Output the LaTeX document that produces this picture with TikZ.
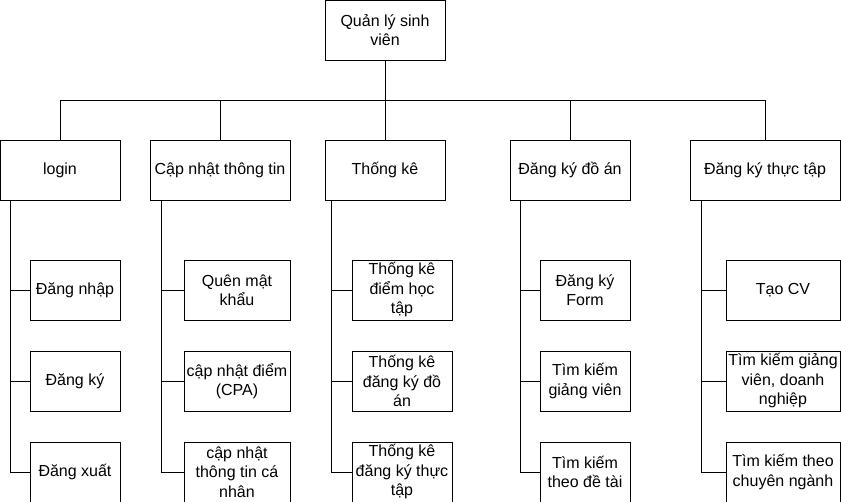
\documentclass[tikz,border=0pt]{standalone}
\usepackage{fontspec}
\setmainfont{Liberation Sans}
\usetikzlibrary{positioning}

\begin{document}
\begin{tikzpicture}[
    x=1pt, y=-1pt,
    node distance=30pt,
    box/.style={rectangle, draw=black, line width=1pt, minimum height=60pt, inner sep=0pt, align=center, font=\fontsize{16}{19.5}\selectfont},
    link/.style={draw=black, line width=1pt}
]
    \useasboundingbox (0,0) rectangle (841,501);

    % Root
    \node[box, minimum width=120pt] (root) at (385,30) {Quản lý sinh\\viên};

    % Main functions
    \node[box, minimum width=120pt] (login) at (60,170) {login};
    \node[box, minimum width=140pt] (capnhat) at (220,170) {Cập nhật thông tin};
    \node[box, minimum width=120pt] (thongke) at (385,170) {Thống kê};
    \node[box, minimum width=120pt] (doan) at (570,170) {Đăng ký đồ án};
    \node[box, minimum width=150pt] (thuctap) at (765,170) {Đăng ký thực tập};

    % login
    \node[box, minimum width=90pt] (l1) at (75,290) {Đăng nhập};
    \node[box, minimum width=90pt] (l2) [below=of l1] {Đăng ký};
    \node[box, minimum width=90pt] (l3) [below=of l2] {Đăng xuất};

    % Cap nhat thong tin
    \node[box, minimum width=106pt] (c1) at (237,290) {Quên mật\\khẩu};
    \node[box, minimum width=106pt] (c2) [below=of c1] {cập nhật điểm\\(CPA)};
    \node[box, minimum width=106pt] (c3) [below=of c2] {cập nhật\\thông tin cá\\nhân};

    % Thong ke
    \node[box, minimum width=100pt] (t1) at (402,290) {Thống kê\\điểm học\\tập};
    \node[box, minimum width=100pt] (t2) [below=of t1] {Thống kê\\đăng ký đồ\\án};
    \node[box, minimum width=100pt] (t3) [below=of t2] {Thống kê\\đăng ký thực\\tập};

    % Dang ky do an
    \node[box, minimum width=90pt] (d1) at (585,290) {Đăng ký\\Form};
    \node[box, minimum width=90pt] (d2) [below=of d1] {Tìm kiếm\\giảng viên};
    \node[box, minimum width=90pt] (d3) [below=of d2] {Tìm kiếm\\theo đề tài};

    % Dang ky thuc tap
    \node[box, minimum width=114pt] (p1) at (783,290) {Tạo CV};
    \node[box, minimum width=114pt] (p2) [below=of p1] {Tìm kiếm giảng\\viên, doanh\\nghiệp};
    \node[box, minimum width=114pt] (p3) [below=of p2] {Tìm kiếm theo\\chuyên ngành};

    % Draw connections
    \coordinate (bus) at (385,100);
    \draw[link] (root) -- (thongke);
    \foreach \n in {login,capnhat,doan,thuctap}
        \draw[link] (bus) -| (\n.north);

    \coordinate (sL) at (10,200);
    \coordinate (sC) at (161,200);
    \coordinate (sT) at (331,200);
    \coordinate (sD) at (520,200);
    \coordinate (sP) at (701,200);
    \foreach \s/\c in {sL/l1,sL/l2,sL/l3,sC/c1,sC/c2,sC/c3,sT/t1,sT/t2,sT/t3,sD/d1,sD/d2,sD/d3,sP/p1,sP/p2,sP/p3}
        \draw[link] (\s) |- (\c.west);

\end{tikzpicture}
\end{document}
